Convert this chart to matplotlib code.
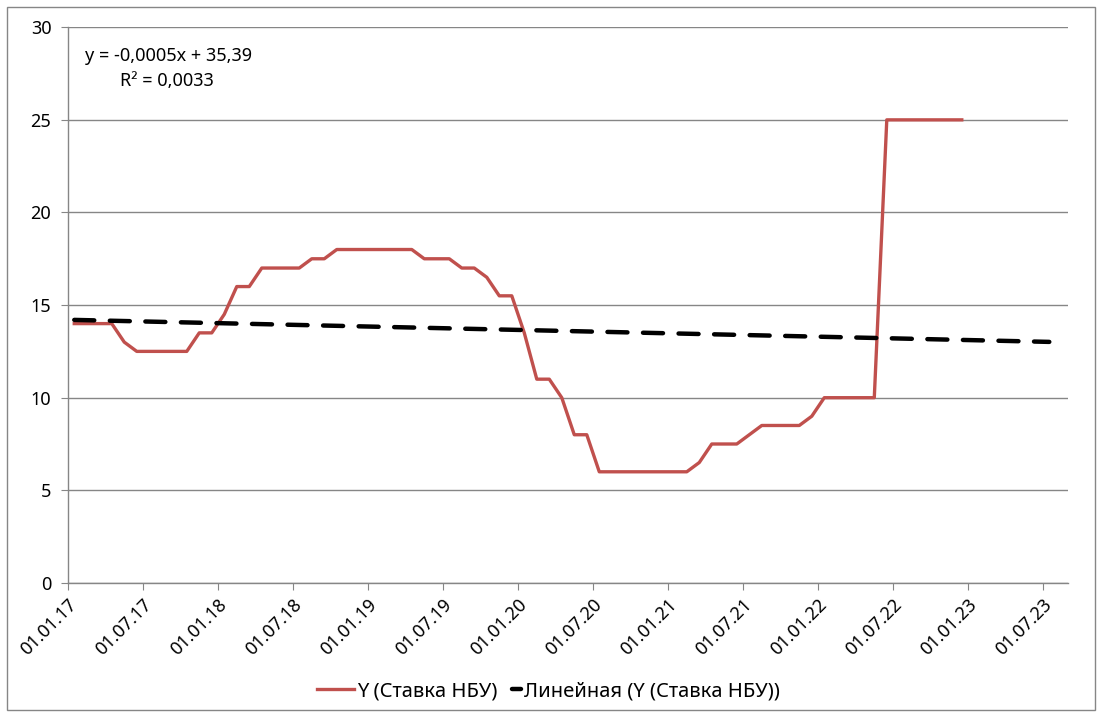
import numpy as np
import matplotlib.pyplot as plt
from matplotlib.patches import Rectangle

plt.rcParams['font.family'] = ['Noto Sans', 'DejaVu Sans']

# monthly NBU rate, Jan 2017 .. Dec 2022
rate = [14, 14, 14, 14, 13, 12.5, 12.5, 12.5, 12.5, 12.5, 13.5, 13.5,
        14.5, 16, 16, 17, 17, 17, 17, 17.5, 17.5, 18, 18, 18,
        18, 18, 18, 18, 17.5, 17.5, 17.5, 17, 17, 16.5, 15.5, 15.5,
        13.5, 11, 11, 10, 8, 8, 6, 6, 6, 6, 6, 6,
        6, 6, 6.5, 7.5, 7.5, 7.5, 8, 8.5, 8.5, 8.5, 8.5, 9,
        10, 10, 10, 10, 10, 25, 25, 25, 25, 25, 25, 25]
tick_labels = ['01.01.17', '01.07.17', '01.01.18', '01.07.18', '01.01.19',
               '01.07.19', '01.01.20', '01.07.20', '01.01.21', '01.07.21',
               '01.01.22', '01.07.22', '01.01.23', '01.07.23']
trend_start = 14.2      # trend value at the first month
trend_slope = -0.0005   # per day
trend_months = 79       # trend drawn across the whole axis
eq_text = 'y = -0,0005x + 35,39'
r2_text = 'R² = 0,0033'

x = np.arange(len(rate)) + 0.5
xt = np.arange(trend_months) + 0.5
trend = trend_start + trend_slope * (xt - 0.5) * 30.44

fig = plt.figure(figsize=(10.97, 7.17), dpi=100)
ax = fig.add_axes([0.062, 0.187, 0.9116, 0.775])

l1, = ax.plot(x, rate, color='#C0504D', lw=2.4, label='Y (Ставка НБУ)', zorder=3)
l2, = ax.plot(xt, trend, color='black', lw=3.2, ls=(0, (4.5, 3.5)),
              dash_capstyle='round', label='Линейная (Y (Ставка НБУ))', zorder=4)

ax.set_xlim(0, 80)
ax.set_ylim(0, 30)
ax.set_yticks(range(0, 31, 5))
ax.set_xticks(np.arange(0, 79, 6))
ax.set_xticklabels(tick_labels, rotation=45, ha='right', va='top',
                   rotation_mode='anchor')
ax.tick_params(axis='x', length=5, color='#868686', labelsize=13, pad=4)
ax.tick_params(axis='y', length=5, color='#868686', labelsize=13, pad=7)
ax.grid(axis='y', color='#868686', lw=1)
ax.set_axisbelow(True)
for s in ['top', 'right']:
    ax.spines[s].set_visible(False)
for s in ['left', 'bottom']:
    ax.spines[s].set_color('#868686')
    ax.spines[s].set_linewidth(1)

ax.text(0.017, 0.965, eq_text, transform=ax.transAxes, fontsize=13,
        va='top', ha='left')
ax.text(0.052, 0.92, r2_text, transform=ax.transAxes, fontsize=13,
        va='top', ha='left')

# two legends so the trend entry gets a short dash and the red one a longer line
fig.legend(handles=[l1], loc='center right', bbox_to_anchor=(0.453, 0.036),
           frameon=False, fontsize=14.5, handlelength=1.8, handletextpad=0.15,
           borderaxespad=0, borderpad=0)
fig.legend(handles=[l2], loc='center left', bbox_to_anchor=(0.467, 0.036),
           frameon=False, fontsize=14.5, handlelength=0.45, handletextpad=0.15,
           borderaxespad=0, borderpad=0)

fig.patches.append(Rectangle((0.006, 0.01), 0.992, 0.98, transform=fig.transFigure,
                             fill=False, ec='#868686', lw=1))

fig.savefig('out.png', dpi=100)
